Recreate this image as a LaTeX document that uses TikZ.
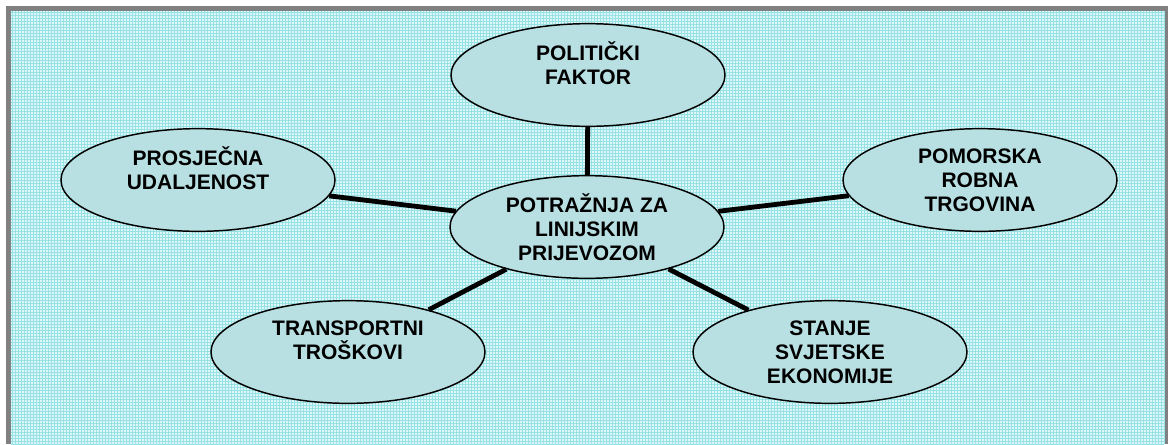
\documentclass[tikz,border=0pt]{standalone}
\usepackage{fontspec}
\setmainfont{Liberation Sans}

\definecolor{frame}{RGB}{128,128,128}
\definecolor{paper}{RGB}{222,246,247}
\definecolor{gridline}{RGB}{150,226,229}
\definecolor{bubble}{RGB}{184,224,227}

\tikzset{every picture/.style={line width=0.75pt}}
\tikzset{
  factor/.style={ellipse, draw=black, line width=1.1pt, fill=bubble,
    minimum width=205.5pt, minimum height=77pt, inner sep=0pt, align=center,
    font=\fontsize{15.75}{18}\selectfont\bfseries},
  link/.style={line width=3.6pt, black}
}

\usetikzlibrary{shapes.geometric}

\begin{document}
\begin{tikzpicture}[x=0.75pt,y=0.75pt,yscale=-1,xscale=1]
\useasboundingbox (0,0) rectangle (1168,444);

%Frame and background
\fill [frame] (6,6) rectangle (1168,444);
\fill [paper] (11,11) rectangle (1164,444);
\draw [gridline, line width=0.4pt, step=3] (11,11) grid (1164,444);

% Ellipses
\node [factor] (pot) at (587,227) {POTRAŽNJA ZA\\LINIJSKIM\\PRIJEVOZOM};
\node [factor] (pol) at (588,75) {POLITIČKI\\FAKTOR\\\mbox{}};
\node [factor] (pros) at (198,180) {PROSJEČNA\\UDALJENOST\\\mbox{}};
\node [factor] (pom) at (980,180) {POMORSKA\\ROBNA\\TRGOVINA};
\node [factor] (trans) at (348,352) {TRANSPORTNI\\TROŠKOVI\\\mbox{}};
\node [factor] (stanje) at (830,352) {STANJE\\SVJETSKE\\EKONOMIJE};

% Connectors
\draw [link] (pot) -- (pol);
\draw [link] (pot) -- (pros);
\draw [link] (pot) -- (pom);
\draw [link] (pot) -- (trans);
\draw [link] (pot) -- (stanje);

\end{tikzpicture}
\end{document}
